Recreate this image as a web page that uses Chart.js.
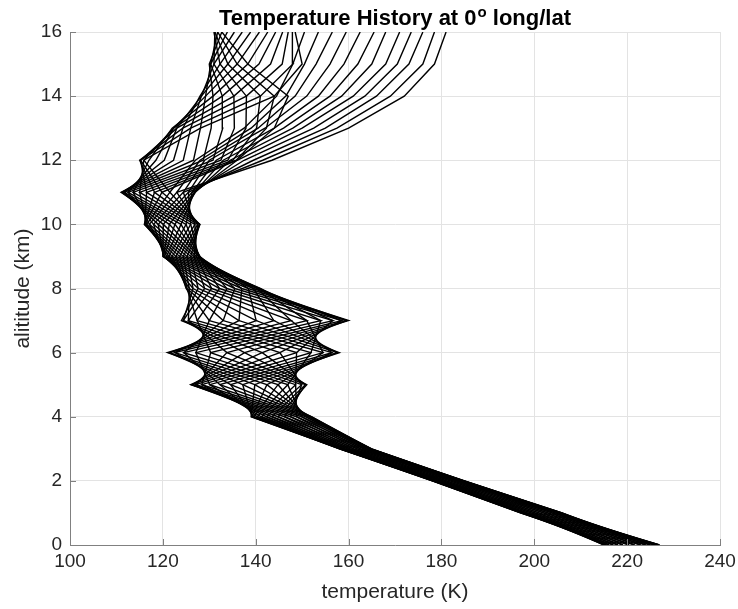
<!DOCTYPE html>
<html>
<head>
<meta charset="utf-8">
<script src="https://cdn.jsdelivr.net/npm/chart.js@4"></script>
<style>
  html, body { margin: 0; padding: 0; background: #fff; }
</style>
</head>
<body>
<canvas id="chart" width="738" height="609"></canvas>
<script>
// altitude levels (km)
const altitudes = [0, 1, 2, 3, 4, 5, 6, 7, 8, 9, 10, 11, 12, 13, 14, 15, 16];

// temperature history (K) at each altitude, one value per output time step
const t0km  = [222.9, 224.0, 225.0, 225.9, 226.5, 226.9, 227.0, 226.9, 226.5, 225.9, 225.0, 224.0, 222.9, 221.6, 220.4, 219.1, 218.0, 217.0, 216.1, 215.5, 215.1, 215.0, 215.1, 215.5, 216.1, 217.0, 218.0, 219.1, 220.4, 221.6];
const t1km  = [205.9, 206.0, 205.9, 205.6, 205.1, 204.5, 203.8, 202.9, 202.0, 201.0, 200.1, 199.3, 198.5, 197.9, 197.4, 197.1, 197.0, 197.1, 197.4, 197.9, 198.5, 199.3, 200.1, 201.0, 202.0, 202.9, 203.8, 204.5, 205.1, 205.6];
const t2km  = [185.0, 184.9, 184.7, 184.3, 183.8, 183.3, 182.6, 181.9, 181.1, 180.4, 179.8, 179.2, 178.7, 178.3, 178.1, 178.0, 178.1, 178.3, 178.7, 179.2, 179.8, 180.4, 181.1, 181.9, 182.6, 183.3, 183.8, 184.3, 184.7, 184.9];
const t3km  = [164.7, 164.9, 165.0, 164.9, 164.7, 164.3, 163.8, 163.3, 162.6, 161.9, 161.1, 160.4, 159.8, 159.2, 158.7, 158.3, 158.1, 158.0, 158.1, 158.3, 158.7, 159.2, 159.8, 160.4, 161.1, 161.9, 162.6, 163.3, 163.8, 164.3];
const t4km  = [149.9, 150.8, 151.4, 151.9, 152.0, 151.9, 151.4, 150.8, 149.9, 148.8, 147.5, 146.2, 144.8, 143.5, 142.3, 141.2, 140.3, 139.6, 139.2, 139.0, 139.2, 139.6, 140.3, 141.2, 142.3, 143.5, 144.8, 146.2, 147.5, 148.8];
const t5km  = [128.4, 130.1, 132.3, 134.6, 137.2, 139.8, 142.4, 144.8, 146.9, 148.6, 149.9, 150.7, 151.0, 150.7, 149.9, 148.6, 146.9, 144.8, 142.4, 139.8, 137.2, 134.6, 132.3, 130.1, 128.4, 127.1, 126.3, 126.0, 126.3, 127.1];
const t6km  = [130.3, 127.1, 124.5, 122.6, 121.4, 121.0, 121.4, 122.6, 124.5, 127.1, 130.3, 133.8, 137.6, 141.4, 145.2, 148.8, 151.9, 154.5, 156.4, 157.6, 158.0, 157.6, 156.4, 154.5, 151.9, 148.8, 145.2, 141.4, 137.6, 133.8];
const t7km  = [158.5, 156.6, 154.0, 151.0, 147.6, 143.9, 140.1, 136.4, 133.0, 130.0, 127.4, 125.5, 124.4, 124.0, 124.4, 125.5, 127.4, 130.0, 133.0, 136.4, 140.1, 143.9, 147.6, 151.0, 154.0, 156.6, 158.5, 159.6, 160.0, 159.6];
const t8km  = [135.5, 133.8, 132.2, 130.5, 129.0, 127.6, 126.5, 125.7, 125.2, 125.0, 125.2, 125.7, 126.5, 127.6, 129.0, 130.5, 132.2, 133.8, 135.5, 137.0, 138.4, 139.5, 140.3, 140.8, 141.0, 140.8, 140.3, 139.5, 138.4, 137.0];
const t9km  = [120.8, 120.3, 120.1, 120.0, 120.1, 120.3, 120.8, 121.3, 122.0, 122.8, 123.6, 124.4, 125.2, 126.0, 126.7, 127.2, 127.7, 127.9, 128.0, 127.9, 127.7, 127.2, 126.7, 126.0, 125.2, 124.4, 123.6, 122.8, 122.0, 121.3];
const t10km = [117.1, 118.0, 119.0, 120.1, 121.4, 122.6, 123.9, 125.0, 126.0, 126.9, 127.5, 127.9, 128.0, 127.9, 127.5, 126.9, 126.0, 125.0, 123.9, 122.6, 121.4, 120.1, 119.0, 118.0, 117.1, 116.5, 116.1, 116.0, 116.1, 116.5];
const t11km = [123.0, 124.4, 125.5, 126.3, 126.8, 127.0, 126.8, 126.3, 125.5, 124.4, 123.0, 121.5, 119.8, 118.2, 116.5, 115.0, 113.6, 112.5, 111.7, 111.2, 111.0, 111.2, 111.7, 112.5, 113.6, 115.0, 116.5, 118.2, 119.8, 121.5];
const t12km = [143.5, 141.5, 139.5, 137.5, 136.0, 134.5, 133.0, 131.5, 130.0, 129.0, 128.0, 127.0, 136.0, 135.8, 135.1, 134.0, 132.5, 130.8, 128.7, 126.6, 124.4, 122.3, 120.3, 118.5, 117.0, 115.9, 115.2, 115.0, 115.2, 115.9];
const t13km = [160.0, 157.5, 155.0, 152.5, 150.0, 148.0, 146.0, 144.0, 142.0, 140.5, 139.0, 137.5, 144.0, 142.3, 140.2, 137.9, 135.4, 132.9, 130.4, 128.1, 126.0, 124.3, 123.0, 122.3, 122.0, 122.3, 123.0, 124.3, 126.0, 128.1];
const t14km = [172.0, 169.0, 166.0, 163.5, 161.0, 158.5, 156.0, 153.5, 151.0, 148.5, 146.5, 144.5, 147.0, 144.0, 141.0, 138.0, 135.3, 132.8, 130.8, 129.2, 128.3, 128.0, 128.3, 129.2, 130.8, 132.8, 135.3, 138.0, 141.0, 144.0];
const t15km = [178.5, 176.0, 173.0, 170.5, 168.0, 165.0, 162.0, 159.0, 156.0, 153.0, 150.5, 148.0, 138.3, 136.0, 134.0, 132.3, 131.0, 130.3, 130.0, 130.3, 131.0, 132.3, 134.0, 136.0, 138.3, 140.7, 143.2, 145.7, 148.0, 150.0];
const t16km = [181.0, 178.5, 176.0, 173.5, 171.0, 168.0, 165.5, 162.5, 159.5, 156.5, 153.5, 150.5, 132.7, 131.8, 131.2, 131.0, 131.2, 131.8, 132.7, 133.9, 135.4, 137.1, 138.9, 140.8, 142.6, 144.3, 145.8, 147.0, 147.9, 148.5];

const tempByAlt = [t0km, t1km, t2km, t3km, t4km, t5km, t6km, t7km, t8km, t9km, t10km, t11km, t12km, t13km, t14km, t15km, t16km];

const xTicks = [100, 120, 140, 160, 180, 200, 220, 240];
const yTicks = [0, 2, 4, 6, 8, 10, 12, 14, 16];

const FONT = '"Liberation Sans", Arial, Helvetica, sans-serif';
const AXIS_COLOR = '#808080';
const TEXT_COLOR = '#262626';

// one profile (line) per time step
const datasets = [];
for (let s = 0; s < t0km.length; s++) {
    datasets.push({
        data: altitudes.map((a, k) => ({ x: tempByAlt[k][s], y: a })),
        showLine: true,
        borderColor: '#000000',
        borderWidth: 1.4,
        pointRadius: 0,
        pointHoverRadius: 0,
        fill: false,
        tension: 0
    });
}

// MATLAB style ticks pointing into the axes + title with superscript o
const matlabBits = {
    id: 'matlabBits',
    afterDraw(chart) {
        const ctx = chart.ctx;
        const area = chart.chartArea;
        const xs = chart.scales.x, ys = chart.scales.y;
        ctx.save();
        ctx.strokeStyle = AXIS_COLOR;
        ctx.lineWidth = 1;
        ctx.beginPath();
        xTicks.forEach(v => {
            const px = Math.round(xs.getPixelForValue(v)) + 0.5;
            ctx.moveTo(px, area.bottom);
            ctx.lineTo(px, area.bottom - 6);
        });
        yTicks.forEach(v => {
            const py = Math.round(ys.getPixelForValue(v)) + 0.5;
            ctx.moveTo(area.left, py);
            ctx.lineTo(area.left + 6, py);
        });
        ctx.stroke();

        // title
        const cx = (area.left + area.right) / 2;
        const base = 25;
        const mainFont = 'bold 22px ' + FONT;
        const supFont = 'bold 15px ' + FONT;
        const partA = 'Temperature History at 0';
        const partB = 'o';
        const partC = ' long/lat';
        ctx.font = mainFont;
        const wA = ctx.measureText(partA).width;
        const wC = ctx.measureText(partC).width;
        ctx.font = supFont;
        const wB = ctx.measureText(partB).width;
        let x0 = cx - (wA + wB + 1 + wC) / 2;
        ctx.fillStyle = '#000000';
        ctx.textBaseline = 'alphabetic';
        ctx.textAlign = 'left';
        ctx.font = mainFont;
        ctx.fillText(partA, x0, base);
        ctx.font = supFont;
        ctx.fillText(partB, x0 + wA + 1, base - 8);
        ctx.font = mainFont;
        ctx.fillText(partC, x0 + wA + wB + 1, base);
        ctx.restore();
    }
};

const chart = new Chart(document.getElementById('chart'), {
    type: 'scatter',
    data: { datasets: datasets },
    options: {
        responsive: false,
        animation: false,
        events: [],
        layout: { padding: { top: 32, right: 18, left: 0, bottom: 0 } },
        plugins: {
            legend: { display: false },
            tooltip: { enabled: false },
            title: { display: false }
        },
        scales: {
            x: {
                type: 'linear',
                min: 100,
                max: 240,
                afterBuildTicks: s => { s.ticks = xTicks.map(v => ({ value: v })); },
                afterFit: s => { s.height = 64; s.paddingLeft = 0; s.paddingRight = 0; },
                ticks: { color: TEXT_COLOR, font: { family: FONT, size: 19 }, padding: 5, maxRotation: 0 },
                grid: { color: '#e3e3e3', lineWidth: 1, drawTicks: false },
                border: { color: AXIS_COLOR, width: 1 },
                title: { display: true, text: 'temperature (K)', color: TEXT_COLOR, font: { family: FONT, size: 21 }, padding: { top: 0, bottom: 4 } }
            },
            y: {
                type: 'linear',
                min: 0,
                max: 16,
                afterBuildTicks: s => { s.ticks = yTicks.map(v => ({ value: v })); },
                afterFit: s => { s.width = 70; s.paddingTop = 0; s.paddingBottom = 0; },
                ticks: { color: TEXT_COLOR, font: { family: FONT, size: 19 }, padding: 8 },
                grid: { color: '#e3e3e3', lineWidth: 1, drawTicks: false },
                border: { color: AXIS_COLOR, width: 1 },
                title: { display: true, text: 'alititude (km)', color: TEXT_COLOR, font: { family: FONT, size: 21 }, padding: { top: 11, bottom: 0 } }
            }
        }
    },
    plugins: [matlabBits]
});
</script>
</body>
</html>
